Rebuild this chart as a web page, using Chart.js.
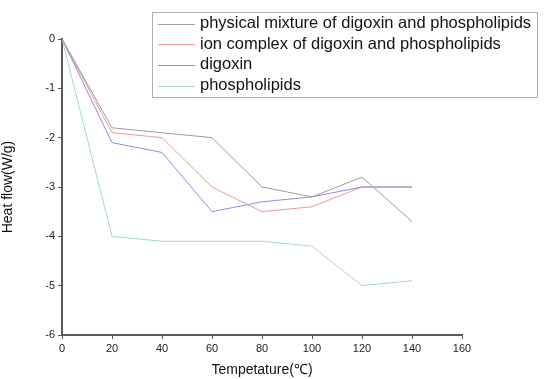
<!DOCTYPE html>
<html>
<head>
<meta charset="utf-8">
<script src="https://cdn.jsdelivr.net/npm/chart.js@4/dist/chart.umd.min.js"></script>
<style>
  html, body { margin: 0; padding: 0; background: #fff; }
  #wrap { width: 545px; height: 379px; }
</style>
</head>
<body>
<div id="wrap"><canvas id="dsc-chart" width="545" height="379"></canvas></div>
<script>
// Temperatures (°C) and heat flow (W/g) per sample
const temps = [0, 20, 40, 60, 80, 100, 120, 140];
const physicalMixture = [0, -1.8, -1.9, -2.0, -3.0, -3.2, -2.8, -3.7];
const ionComplex = [0, -1.9, -2.0, -3.0, -3.5, -3.4, -3.0, -3.0];
const digoxin = [0, -2.1, -2.3, -3.5, -3.3, -3.2, -3.0, -3.0];
const phospholipids = [0, -4.0, -4.1, -4.1, -4.1, -4.2, -5.0, -4.9];

const seriesNames = [
    'physical mixture of digoxin and phospholipids',
    'ion complex of digoxin and phospholipids',
    'digoxin',
    'phospholipids'
];
const seriesColors = ['#9c9c9c', '#f29595', '#8c8ce8', '#a6d6c6'];
// lower order is drawn on top
const seriesOrder = [0, 2, 1, 3];

function toPoints(values) {
    return values.map((v, i) => ({ x: temps[i], y: v }));
}

// Legend box drawn inside the plot, top right
const boxLegend = {
    id: 'boxLegend',
    afterDatasetsDraw(chart) {
        const ctx = chart.ctx;
        const left = 152, top = 12, width = 385, height = 85;
        ctx.save();
        ctx.fillStyle = '#fff';
        ctx.fillRect(left, top, width, height);
        ctx.strokeStyle = '#b0b0b0';
        ctx.lineWidth = 1;
        ctx.strokeRect(left + 0.5, top + 0.5, width, height);
        ctx.font = '16.5px "Liberation Sans", Arial, sans-serif';
        ctx.textBaseline = 'middle';
        seriesNames.forEach((name, i) => {
            const y = 23.5 + i * 20.7;
            ctx.strokeStyle = seriesColors[i];
            ctx.lineWidth = 1;
            ctx.beginPath();
            ctx.moveTo(158, Math.round(y) + 0.5);
            ctx.lineTo(195, Math.round(y) + 0.5);
            ctx.stroke();
            ctx.fillStyle = '#111';
            ctx.fillText(name, 200, y);
        });
        ctx.restore();
    }
};

const datasets = [physicalMixture, ionComplex, digoxin, phospholipids].map((vals, i) => ({
    label: seriesNames[i],
    data: toPoints(vals),
    borderColor: seriesColors[i],
    borderWidth: 1,
    pointRadius: 0,
    tension: 0,
    fill: false,
    order: seriesOrder[i]
}));

const fontFamily = '"Liberation Sans", Arial, sans-serif';
const tickFont = { family: fontFamily, size: 11 };

new Chart(document.getElementById('dsc-chart').getContext('2d'), {
    type: 'line',
    data: { datasets: datasets },
    options: {
        responsive: false,
        animation: false,
        layout: { padding: { left: 0, top: 39, right: 83, bottom: 0 } },
        plugins: {
            legend: { display: false },
            tooltip: { enabled: false }
        },
        scales: {
            x: {
                type: 'linear',
                min: 0,
                max: 160,
                ticks: { stepSize: 20, color: '#222', font: tickFont, padding: 3 },
                grid: { drawOnChartArea: false, drawTicks: true, tickLength: 4, color: '#555' },
                border: { display: true, color: '#5a5a5a', width: 2 },
                title: {
                    display: true,
                    text: 'Tempetature(℃)',
                    color: '#111',
                    font: { family: fontFamily, size: 14 },
                    padding: { top: 2, bottom: 0 }
                },
                afterFit: s => { s.height = 44; }
            },
            y: {
                min: -6,
                max: 0,
                ticks: { stepSize: 1, color: '#222', font: tickFont, padding: 3 },
                grid: { drawOnChartArea: false, drawTicks: true, tickLength: 4, color: '#555' },
                border: { display: true, color: '#5a5a5a', width: 2 },
                title: {
                    display: true,
                    text: 'Heat flow(W/g)',
                    color: '#111',
                    font: { family: fontFamily, size: 14 },
                    padding: { top: 0, bottom: 2 }
                },
                afterFit: s => { s.width = 62; }
            }
        }
    },
    plugins: [boxLegend]
});
</script>
</body>
</html>
